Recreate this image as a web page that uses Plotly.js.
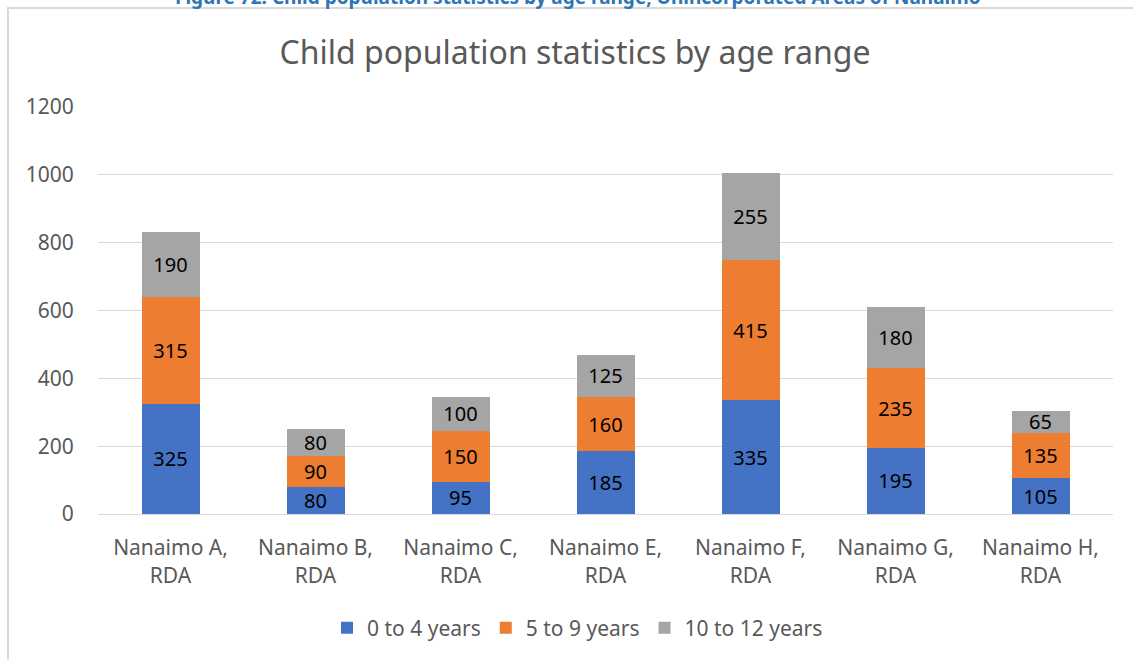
<!DOCTYPE html>
<html><head><meta charset="utf-8">
<script src="https://cdn.plot.ly/plotly-3.0.1.min.js"></script>
<style>html,body{margin:0;padding:0;background:#fff;}#chart{width:1133px;height:660px;}</style>
</head><body><div id="chart"></div>
<script>
const categories = ["Nanaimo A,<br>RDA","Nanaimo B,<br>RDA","Nanaimo C,<br>RDA","Nanaimo E,<br>RDA","Nanaimo F,<br>RDA","Nanaimo G,<br>RDA","Nanaimo H,<br>RDA"];
const age0to4 = [325, 80, 95, 185, 335, 195, 105];
const age5to9 = [315, 90, 150, 160, 415, 235, 135];
const age10to12 = [190, 80, 100, 125, 255, 180, 65];
const seriesNames = ["0 to 4 years", "5 to 9 years", "10 to 12 years"];
const colors = ["#4472C4", "#ED7D31", "#A5A5A5"];
const F = "Noto Sans, Open Sans, sans-serif";

const traces = [age0to4, age5to9, age10to12].map((vals, i) => ({
  type: "bar", x: categories, y: vals, name: seriesNames[i],
  marker: {color: colors[i]},
  text: vals.map(String), textposition: "inside", insidetextanchor: "middle", textangle: 0,
  textfont: {family: F, size: 20, color: "#000"},
  constraintext: "none", hoverinfo: "skip"
}));

const layout = {
  width: 1133, height: 660,
  margin: {l: 98, r: 20, t: 107, b: 146},
  barmode: "stack", bargap: 0.6,
  paper_bgcolor: "#fff", plot_bgcolor: "#fff",
  font: {family: F, color: "#595959"},
  title: {text: "Child population statistics by age range", font: {family: F, size: 32, color: "#595959"},
          x: 575/1133, xanchor: "center", y: 1 - 53/660, yanchor: "middle", xref: "container"},
  xaxis: {tickfont: {family: F, size: 21, color: "#595959"}, showline: true, linecolor: "#D9D9D9", linewidth: 1,
          ticks: "", ticklabelstandoff: 15, fixedrange: true},
  yaxis: {range: [0, 1200], dtick: 200, tickfont: {family: F, size: 21, color: "#595959"},
          gridcolor: "#D9D9D9", gridwidth: 1, zeroline: false, ticks: "outside", ticklen: 19, tickcolor: "rgba(0,0,0,0)", fixedrange: true},
  legend: {orientation: "h", x: 0.5 - 28/1015, xanchor: "center", y: -(628-514)/407, yanchor: "middle",
           font: {family: F, size: 21, color: "#595959"}, traceorder: "normal", itemwidth: 30},
  shapes: [{type: "rect", xref: "paper", yref: "paper", x0: -90/1015, x1: 1.05, y0: -200/407, y1: (514-8)/407,
            line: {color: "#D9D9D9", width: 2}, fillcolor: "rgba(0,0,0,0)"}],
  annotations: [{text: "<b>Figure 72: Child population statistics by age range, Unincorporated Areas of Nanaimo</b>",
                 xref: "paper", yref: "paper", x: (578-98)/1015, y: (514+3)/407, xanchor: "center", yanchor: "middle",
                 showarrow: false, font: {family: F, size: 19, color: "#2E75B6"}}]
};
Plotly.newPlot("chart", traces, layout, {displayModeBar: false, staticPlot: true});
</script></body></html>
